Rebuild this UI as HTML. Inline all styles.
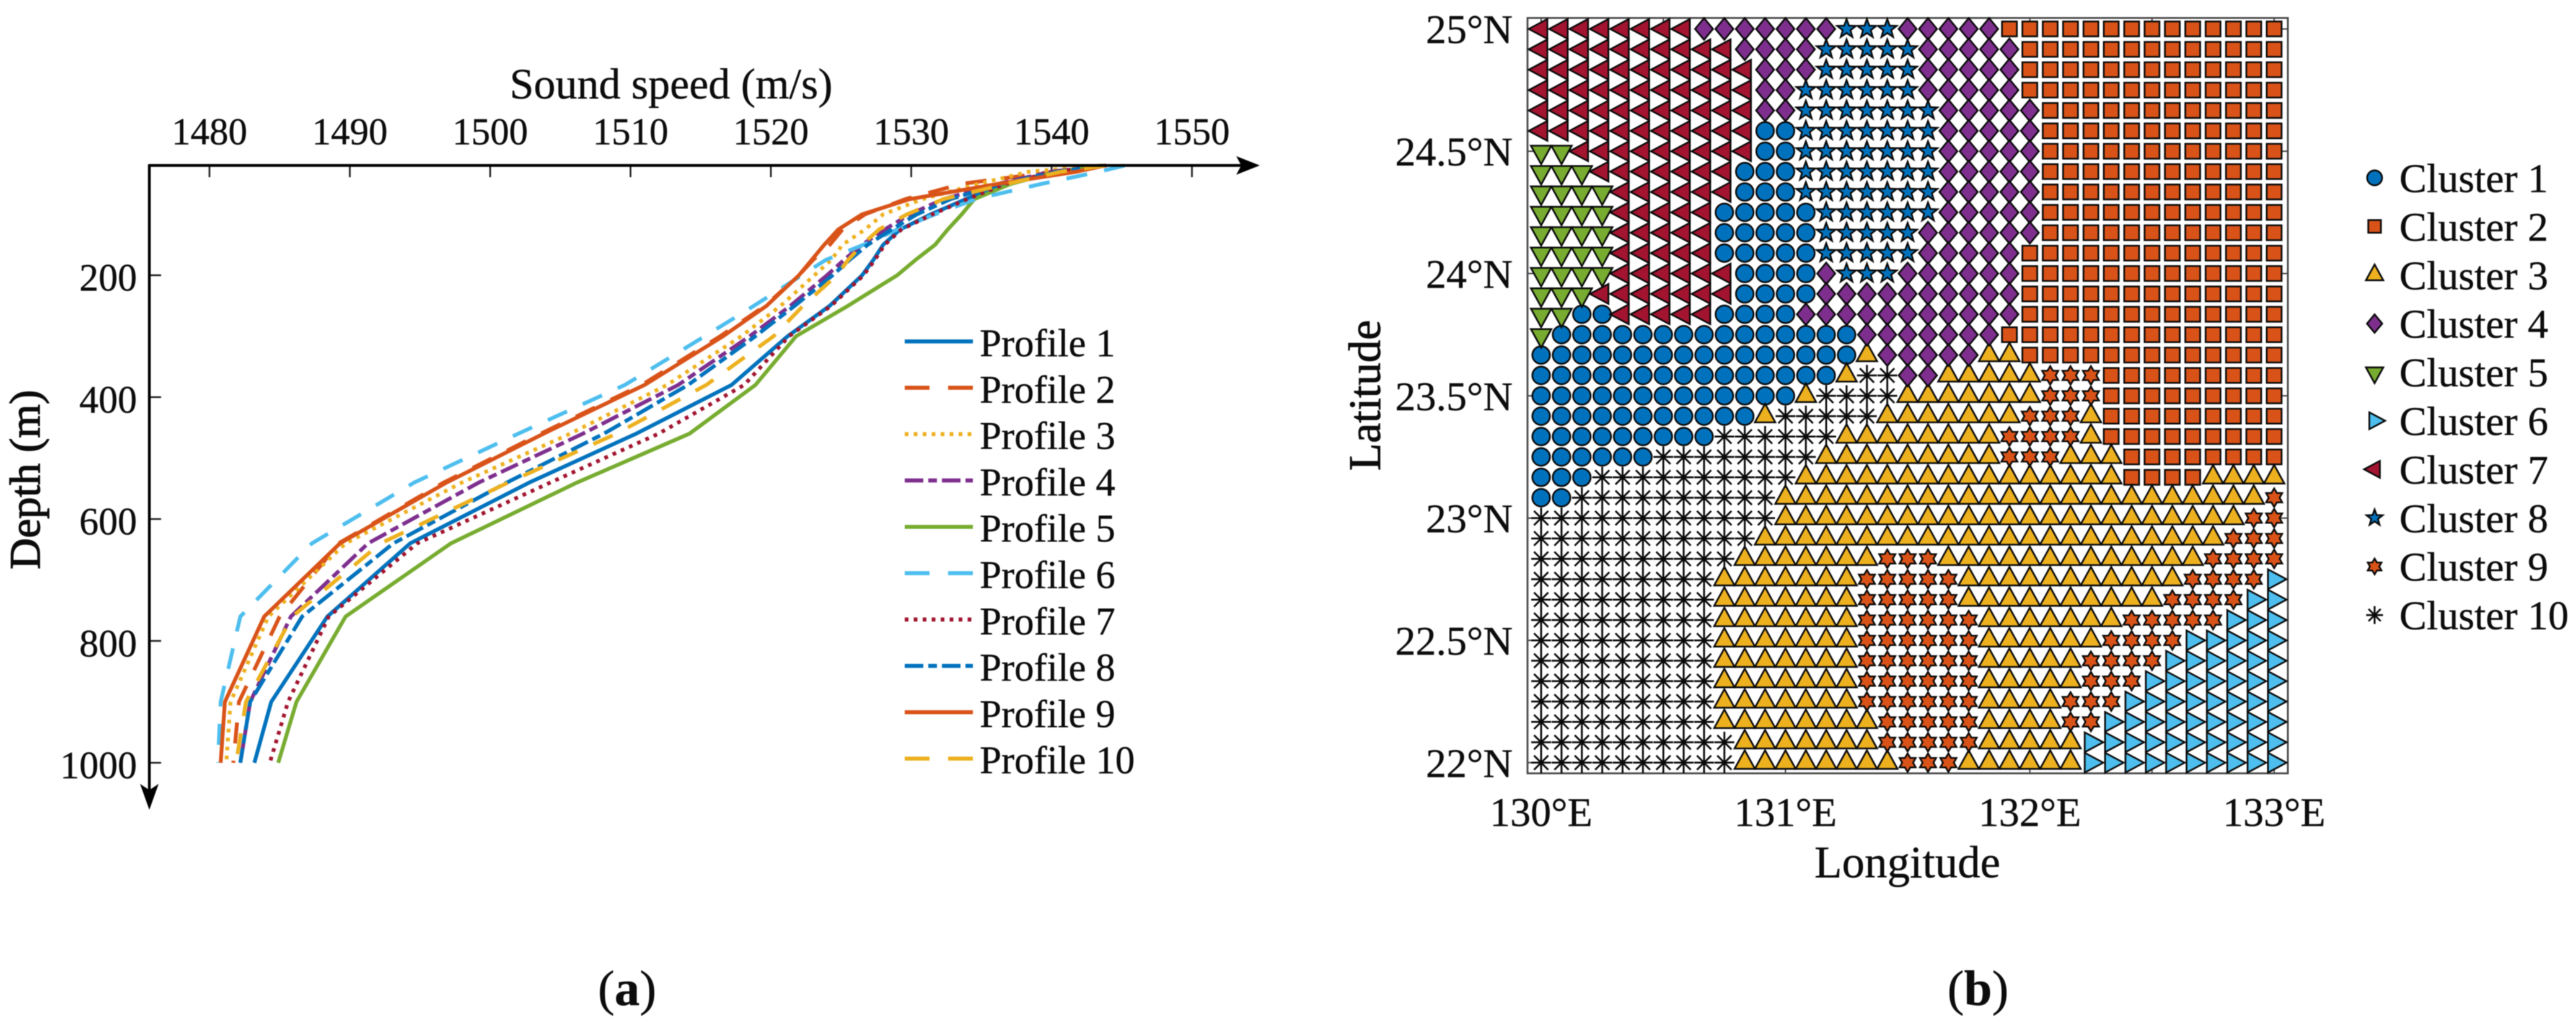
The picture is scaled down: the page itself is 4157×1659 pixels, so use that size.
<!DOCTYPE html>
<html lang="en">
<head>
<meta charset="utf-8">
<title>Sound speed profiles and cluster map</title>
<style>
html,body{margin:0;padding:0;background:#fff;width:4157px;height:1659px;overflow:hidden}
svg{display:block;filter:blur(0.8px);font-family:"Liberation Serif",serif}
text{fill:#0c0c0c;stroke:#0c0c0c;stroke-width:0.5px}
</style>
</head>
<body>
<svg id="figure" xmlns="http://www.w3.org/2000/svg" width="4157" height="1659" viewBox="0 0 4157 1659">
  <rect width="4157" height="1659" fill="#fff"/>
  <g id="panel-a">
    <text x="1083" y="159" font-size="70" text-anchor="middle">Sound speed (m/s)</text>
    <text x="64" y="774" font-size="70" text-anchor="middle" transform="rotate(-90 64 774)" style="stroke-width:1.4px">Depth (m)</text>
    <g id="a-ticks"></g>
    <g id="a-lines"></g>
    <line x1="241" y1="267" x2="2005" y2="267" stroke="#000" stroke-width="4.5"/>
    <line x1="241" y1="265" x2="241" y2="1277" stroke="#000" stroke-width="4.5"/>
    <path d="M2033,267L1995,252L2003,267L1995,282Z" fill="#000"/>
    <path d="M241,1307L226,1265L241,1275L256,1265Z" fill="#000"/>
    <g id="a-legend"></g>
    <text x="1012" y="1622" font-size="81" text-anchor="middle">(<tspan font-weight="bold">a</tspan>)</text>
  </g>
  <g id="panel-b">
    <rect x="2465" y="29" width="1227" height="1219" fill="none" stroke="#4a4a4a" stroke-width="3"/>
    <g id="b-ticks"></g>
    <g id="b-marks"></g>
    <text x="3078" y="1416" font-size="73" text-anchor="middle">Longitude</text>
    <text x="2227" y="638" font-size="73" text-anchor="middle" transform="rotate(-90 2227 638)" style="stroke-width:1px">Latitude</text>
    <g id="b-legend"></g>
    <text x="3192" y="1622" font-size="81" text-anchor="middle">(<tspan font-weight="bold">b</tspan>)</text>
  </g>
</svg>
<script>
/* ---------- panel (a) data ---------- */
const speedTicks = [1480,1490,1500,1510,1520,1530,1540,1550];
const depthTicks = [200,400,600,800,1000];
const depths = [20,30,50,75,100,125,150,175,200,250,300,380,460,540,640,760,900,1000];
const profileNames = ['Profile 1','Profile 2','Profile 3','Profile 4','Profile 5','Profile 6','Profile 7','Profile 8','Profile 9','Profile 10'];
const profile1 = [1543.9,1540.5,1536.6,1533.9,1531.4,1529.2,1528,1527.3,1526.5,1524.2,1521.2,1517.2,1510.4,1502.8,1494.3,1488.4,1484.4,1483.2];
const profile2 = [1543.5,1540.2,1533.6,1529.6,1526.7,1525.1,1524.2,1523,1522,1519.6,1516.4,1510.8,1503.6,1496.7,1489.2,1485,1482.1,1481.7];
const profile3 = [1543.6,1538.4,1534.8,1530.8,1528,1526.7,1525.1,1524.3,1523.1,1520.7,1517.9,1512.6,1505.7,1498,1489.7,1484.2,1481.5,1481.2];
const profile4 = [1543.8,1540,1536.2,1532.3,1529.9,1528.1,1526.5,1525.2,1524,1521.4,1518.5,1513.4,1506.6,1499.2,1491.3,1485.8,1482.9,1482.2];
const profile5 = [1543.7,1540.4,1537.1,1534.5,1533.6,1532.6,1531.7,1530.3,1529,1525.5,1521.8,1518.9,1514.2,1506.2,1497.2,1489.7,1486.2,1484.9];
const profile6 = [1545.2,1543.4,1539.3,1534.6,1531.7,1529,1526.6,1523.9,1522.2,1518.8,1515.3,1509.6,1502,1494.6,1487.3,1482.2,1480.8,1480.6];
const profile7 = [1543.9,1540.2,1536.7,1534,1531.5,1529.3,1528.1,1527.4,1526.6,1524.3,1521.3,1518.1,1512,1504.3,1494.8,1488.5,1485.6,1484.3];
const profile8 = [1543.7,1540.5,1536.4,1532.8,1530.4,1528.6,1526.9,1525.6,1524.4,1521.7,1518.9,1514.1,1508.1,1501.2,1493.1,1486.6,1482.9,1482.2];
const profile9 = [1543.8,1541.8,1536.2,1529.9,1526.5,1524.8,1523.8,1522.9,1522,1519.7,1516.6,1511,1503.8,1496.9,1489.3,1483.9,1481.1,1480.8];
const profile10 = [1543.8,1540.7,1536.8,1532.3,1529.7,1527.7,1526.5,1525.5,1524.7,1522.3,1520.2,1515.4,1509,1501.3,1492.2,1485.9,1482.6,1481.9];
const profiles = [profile1,profile2,profile3,profile4,profile5,profile6,profile7,profile8,profile9,profile10];

/* ---------- panel (b) data: each row runs west to east as cluster x count, rows run 25N to 22N ---------- */
const latTicks = [25,24.5,24,23.5,23,22.5,22];
const lonTickMarks = [130,130.5,131,131.5,132,132.5,133];
const lonTickLabels = [130,131,132,133];
const clusterNames = ['Cluster 1','Cluster 2','Cluster 3','Cluster 4','Cluster 5','Cluster 6','Cluster 7','Cluster 8','Cluster 9','Cluster 10'];
const clusterRows = [
 '7x8 4x7 8x3 4x5 2x14',
 '7x10 4x4 8x5 4x5 2x13',
 '7x11 4x3 8x5 4x5 2x13',
 '7x11 4x2 8x6 4x5 2x13',
 '7x11 4x2 8x7 4x5 2x12',
 '7x11 1x2 8x7 4x5 2x12',
 '5x2 7x9 1x2 8x7 4x5 2x12',
 '5x3 7x7 1x3 8x7 4x5 2x12',
 '5x4 7x6 1x3 8x7 4x5 2x12',
 '5x4 7x5 1x5 8x6 4x5 2x12',
 '5x4 7x5 1x5 8x5 4x6 2x12',
 '5x4 7x5 1x5 8x5 4x5 2x13',
 '5x4 7x6 1x4 4x1 8x3 4x6 2x13',
 '5x3 7x7 1x4 4x10 2x13',
 '5x2 1x2 7x5 1x4 4x11 2x13',
 '5x1 1x15 4x7 2x14',
 '1x16 3x1 4x5 3x2 2x13',
 '1x15 3x1 10x2 4x2 3x5 9x3 2x9',
 '1x13 3x1 10x4 3x7 9x3 2x9',
 '1x11 3x1 10x5 3x7 9x3 3x1 2x9',
 '1x9 10x6 3x8 9x4 3x1 2x9',
 '1x6 10x8 3x9 9x3 3x3 2x8',
 '1x3 10x10 3x16 2x4 3x4',
 '1x2 10x10 3x24 9x1',
 '10x12 3x23 9x2',
 '10x11 3x23 9x3',
 '10x10 3x7 9x3 3x13 9x4',
 '10x9 3x7 9x5 3x11 9x4 6x1',
 '10x9 3x7 9x5 3x10 9x4 6x2',
 '10x9 3x7 9x6 3x7 9x5 6x3',
 '10x9 3x7 9x6 3x6 9x4 6x5',
 '10x9 3x7 9x6 3x5 9x4 6x6',
 '10x9 3x7 9x6 3x5 9x3 6x7',
 '10x9 3x7 9x6 3x4 9x3 6x8',
 '10x9 3x8 9x5 3x4 9x2 6x9',
 '10x10 3x7 9x5 3x5 6x10',
 '10x10 3x8 9x3 3x6 6x10'
];

/* ---------- styles ---------- */
const lineColors = ['#0072BD','#D95319','#EDB120','#7E2F8E','#77AC30','#4DBEEE','#A2142F','#0072BD','#D95319','#EDB120'];
const lineDashes = ['', '34 28', '6 8.5', '30 8 14 8', '', '34 28', '6 8.5', '30 8 14 8', '', '34 28'];
const clusterColors = ['#0072BD','#D95319','#EDB120','#7E2F8E','#77AC30','#4DBEEE','#A2142F','#0072BD','#D95319','none'];

const NS = 'http://www.w3.org/2000/svg';
function make(tag, parent, attrs) {
  const el = document.createElementNS(NS, tag);
  for (const k in attrs) el.setAttribute(k, attrs[k]);
  parent.appendChild(el);
  return el;
}

/* ---------- panel (a) axis functions ---------- */
const xSpeed = v => 338 + 22.65 * (v - 1480);
const yDepth = d => 247.5 + 0.9835 * d;

const aTicks = document.getElementById('a-ticks');
speedTicks.forEach(v => {
  const t = make('line', aTicks, {x1:xSpeed(v), x2:xSpeed(v), y1:267, y2:286, stroke:'#222', 'stroke-width':2.8});
  
  
  const l = make('text', aTicks, {x:xSpeed(v), y:233, 'font-size':61, 'text-anchor':'middle'});
  l.textContent = v;
  
  
});
depthTicks.forEach(d => {
  const t = make('line', aTicks, {x1:241, x2:260, y1:yDepth(d), y2:yDepth(d), stroke:'#222', 'stroke-width':2.8});
  
  
  const l = make('text', aTicks, {x:221, y:yDepth(d)+25, 'font-size':62, 'text-anchor':'end'});
  l.textContent = d;
  
  
});

const aLines = document.getElementById('a-lines');
profiles.forEach((series, i) => {
  const pts = series.map((v, j) => xSpeed(v).toFixed(1) + ',' + yDepth(depths[j]).toFixed(1)).join(' ');
  const p = make('polyline', aLines, {points:pts, fill:'none', stroke:lineColors[i], 'stroke-width':6.2, 'stroke-linejoin':'round'});
  if (lineDashes[i]) p.setAttribute('stroke-dasharray', lineDashes[i]);
  
  
});

const aLegend = document.getElementById('a-legend');
profileNames.forEach((name, i) => {
  const y = 551 + 74.8 * i;
  const s = make('line', aLegend, {x1:1460, x2:1570, y1:y, y2:y, stroke:lineColors[i], 'stroke-width':6.5});
  const dash = lineDashes[i] === '34 28' ? '40 30' : lineDashes[i];
  if (dash) s.setAttribute('stroke-dasharray', dash);
  
  
  const t = make('text', aLegend, {x:1581, y:y+24, 'font-size':63});
  t.textContent = name;
  
  
});

/* ---------- panel (b) axis functions ---------- */
const xLon = lon => 2487 + 394.3 * (lon - 130);
const yLat = lat => 46.7 + 394.7 * (25 - lat);

const bTicks = document.getElementById('b-ticks');
lonTickMarks.forEach(lon => {
  [[1248,1236],[29,41]].forEach(ends => {
    const t = make('line', bTicks, {x1:xLon(lon), x2:xLon(lon), y1:ends[0], y2:ends[1], stroke:'#444', 'stroke-width':2.2});
    
    
  });
});
lonTickLabels.forEach(lon => {
  const l = make('text', bTicks, {x:xLon(lon), y:1333, 'font-size':66, 'text-anchor':'middle'});
  l.textContent = lon + '°E';
  
  
});
latTicks.forEach(lat => {
  [[2465,2477],[3692,3680]].forEach(ends => {
    const t = make('line', bTicks, {x1:ends[0], x2:ends[1], y1:yLat(lat), y2:yLat(lat), stroke:'#444', 'stroke-width':2.2});
    
    
  });
  const l = make('text', bTicks, {x:2441, y:yLat(lat)+23, 'font-size':66, 'text-anchor':'end'});
  l.textContent = lat + '°N';
  
  
});

/* marker glyph geometry */
function starPath(points, outer, inner) {
  let d = '';
  for (let i = 0; i < points * 2; i++) {
    const r = i % 2 ? inner : outer;
    const a = -Math.PI / 2 + i * Math.PI / points;
    d += (i ? 'L' : 'M') + (r * Math.cos(a)).toFixed(2) + ',' + (r * Math.sin(a)).toFixed(2);
  }
  return d + 'Z';
}
const shapes = [
  'M-14.2,0A14.2,14.2 0 1 1 14.2,0A14.2,14.2 0 1 1 -14.2,0Z',
  'M-12,-12H12V12H-12Z',
  'M0,-20L16.5,10L-16.5,10Z',
  'M0,-17.5L14.5,0L0,17.5L-14.5,0Z',
  'M0,21L16.5,-9L-16.5,-9Z',
  'M20,0L-10,-16L-10,16Z',
  'M-20,0L10,-16L10,16Z',
  starPath(5, 16, 6.6),
  starPath(6, 15, 8.8),
  'M-16,0H16M0,-17V17M-11.5,-11.5L11.5,11.5M-11.5,11.5L11.5,-11.5'
];
function drawMarker(parent, cluster, x, y, scale) {
  const p = make('path', parent, {
    d: shapes[cluster],
    transform: 'translate(' + x.toFixed(1) + ' ' + y.toFixed(1) + ') scale(' + scale + ')',
    fill: clusterColors[cluster],
    stroke: '#0a0a0a',
    'stroke-width': (cluster === 9 ? 3 : 2.8) / scale,
    'stroke-linejoin': 'miter'
  });
  return p;
}

const bMarks = document.getElementById('b-marks');
const layers = clusterNames.map(() => make('g', bMarks, {}));
clusterRows.forEach((row, r) => {
  let col = 0;
  row.split(' ').forEach(run => {
    const parts = run.split('x');
    const cluster = Number(parts[0]) - 1;
    const count = Number(parts[1]);
    for (let k = 0; k < count; k++) {
      const lon = 130 + col / 12;
      const lat = 25 - r / 12;
      const m = drawMarker(layers[cluster], cluster, xLon(lon), yLat(lat), 1);
      
      
      col++;
    }
  });
});

const bLegend = document.getElementById('b-legend');
clusterNames.forEach((name, i) => {
  const y = 287 + 78.4 * i;
  const m = drawMarker(bLegend, i, 3832, y, 0.85);
  
  
  const t = make('text', bLegend, {x:3872, y:y+23, 'font-size':66});
  t.textContent = name;
  
  
});
</script>
</body>
</html>
